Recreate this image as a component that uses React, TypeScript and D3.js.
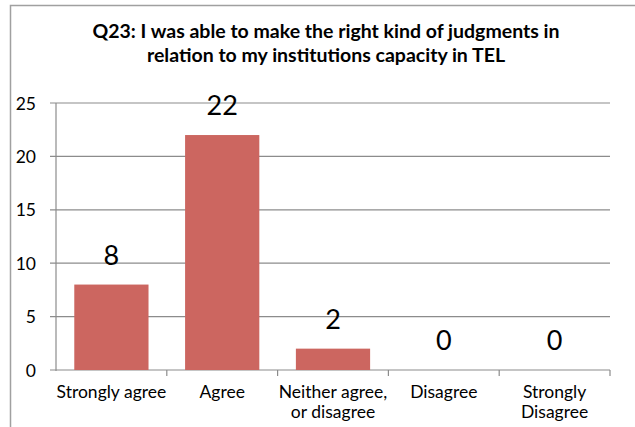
import React from "react";
import * as d3 from "d3";

const categories = ["Strongly agree", "Agree", "Neither agree, or disagree", "Disagree", "Strongly Disagree"];
const categoryLines = [["Strongly agree"], ["Agree"], ["Neither agree,", "or disagree"], ["Disagree"], ["Strongly", "Disagree"]];
const values = [8, 22, 2, 0, 0];
const yTicks = [0, 5, 10, 15, 20, 25];
const titleLines = [
  "Q23: I was able to make the right kind of judgments in",
  "relation to my institutions capacity in TEL",
];

const W = 635;
const H = 427;
const FONT = "Lato, 'Open Sans', sans-serif";

export default function App() {
  const left = 56, right = 610, top = 103, bottom = 370;
  const x = d3.scaleBand<string>().domain(categories).range([left, right]).paddingInner(0.33).paddingOuter(0.165);
  const xb = d3.scaleBand<string>().domain(categories).range([left, right]);
  const y = d3.scaleLinear().domain([0, 25]).range([bottom, top]);
  const grid = "#8c8c8c";
  return (
    <svg width={W} height={H} style={{ position: "absolute", left: 0, top: 0, background: "#fff" }} fontFamily={FONT}>
      <rect x={0} y={0} width={W} height={H} fill="#fff" />
      <path d={`M10.5,${H} V5.5 H${W}`} fill="none" stroke="#a0a0a0" strokeWidth={1.5} />
      {titleLines.map((t, i) => (
        <text key={i} x={326} y={38 + i * 24} textAnchor="middle" fontSize={19.5} fontWeight="bold" fill="#000">{t}</text>
      ))}
      {yTicks.map((t) => (
        <g key={t}>
          <line x1={50} x2={right} y1={y(t)} y2={y(t)} stroke={grid} strokeWidth={1.2} />
          <text x={36} y={y(t) + 6.5} textAnchor="end" fontSize={17.5} fill="#000">{t}</text>
        </g>
      ))}
      <line x1={left} x2={left} y1={top} y2={bottom + 1} stroke={grid} strokeWidth={1.2} />
      {categories.map((c, i) => (
        <line key={c} x1={xb(c)! + xb.bandwidth()} x2={xb(c)! + xb.bandwidth()} y1={bottom} y2={bottom + 6} stroke={grid} strokeWidth={1.2} />
      ))}
      {categories.map((c, i) => (
        <rect key={c} x={x(c)} y={y(values[i])} width={x.bandwidth()} height={bottom - y(values[i])} fill="#CC6660" />
      ))}
      {categories.map((c, i) => (
        <text key={c} x={x(c)! + x.bandwidth() / 2} y={y(values[i]) - 20} textAnchor="middle" fontSize={27} fill="#000">{values[i]}</text>
      ))}
      {categories.map((c, i) => (
        <text key={c} x={xb(c)! + xb.bandwidth() / 2} textAnchor="middle" fontSize={17.5} fill="#000">
          {categoryLines[i].map((l, j) => (
            <tspan key={j} x={xb(c)! + xb.bandwidth() / 2} y={398 + j * 20}>{l}</tspan>
          ))}
        </text>
      ))}
    </svg>
  );
}
